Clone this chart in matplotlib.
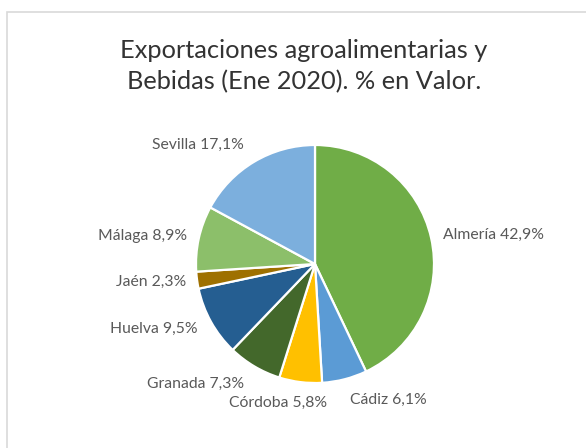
import matplotlib
matplotlib.use("Agg")
import matplotlib.pyplot as plt
import numpy as np
from matplotlib.patches import Rectangle

# Data (Ene 2020, % en valor)
provincias = ["Almería", "Cádiz", "Córdoba", "Granada", "Huelva", "Jaén", "Málaga", "Sevilla"]
porcentajes = [42.9, 6.1, 5.8, 7.3, 9.5, 2.3, 8.9, 17.1]
colores = ["#70AD47", "#5B9BD5", "#FFC000", "#43682B", "#255E91", "#9E7000", "#8CBF6A", "#7CAFDD"]
titulo = "Exportaciones agroalimentarias y\nBebidas (Ene 2020). % en Valor."

plt.rcParams["font.family"] = ["Lato", "DejaVu Sans"]

W, H = 586, 448
fig = plt.figure(figsize=(W / 100, H / 100), dpi=100)

# chart area border
fig.patches.append(Rectangle((7 / W, -0.1), 1.2, 1.1 - 12 / H, transform=fig.transFigure,
                             fill=False, edgecolor="#D9D9D9", linewidth=1.2))

fig.text(304 / W, 1 - 66 / H, titulo, ha="center", va="center", fontsize=18.3,
         color="#333333", linespacing=1.4)

cx, cy, r = 315, 264, 119
ax = fig.add_axes([(cx - r) / W, (H - cy - r) / H, 2 * r / W, 2 * r / H])
wedges, _ = ax.pie(porcentajes, colors=colores, startangle=90, counterclock=False,
                   wedgeprops=dict(edgecolor="white", linewidth=1.6))
ax.set_xlim(-1, 1)
ax.set_ylim(-1, 1)
ax.set_aspect("equal")
ax.axis("off")

# labels placed just outside each slice
nudge = {"Córdoba": 0.25}
for w, name, pct in zip(wedges, provincias, porcentajes):
    ang = np.deg2rad((w.theta1 + w.theta2) / 2)
    c, s = np.cos(ang), np.sin(ang)
    d = 1.08 + 0.1 * abs(s)
    x, y = d * c + nudge.get(name, 0), d * s
    ha = "left" if c > 0 else "right"
    label = f"{name} {pct:.1f}%".replace(".", ",")
    ax.text(x, y, label, ha=ha, va="center", fontsize=11.3, color="#595959", clip_on=False)

fig.savefig("out.png", dpi=100)
